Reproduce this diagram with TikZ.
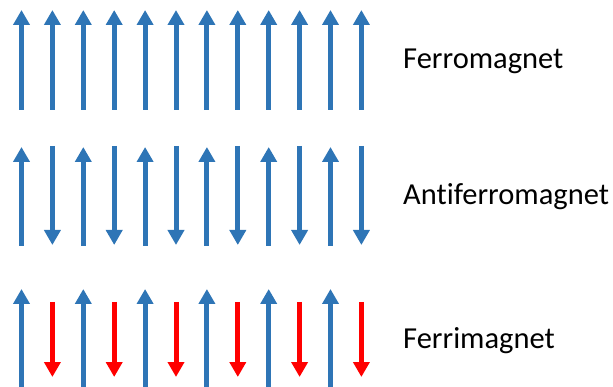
\documentclass[tikz,border=0pt]{standalone}
\usepackage{fontspec}
\setmainfont{Carlito}[Ligatures={NoCommon}]
\usetikzlibrary{arrows.meta}
\definecolor{spinblue}{HTML}{2E75B6}
\definecolor{spinred}{HTML}{FF0000}
\tikzset{
  spin/.style={line width=5pt, -{Triangle[length=15pt,width=16pt]}},
  bluespin/.style={spin, draw=spinblue, color=spinblue},
  redspin/.style={spin, draw=spinred, color=spinred},
  lbl/.style={anchor=base west, inner sep=0pt, font=\fontsize{30.5}{34}\selectfont, text=black}
}
\begin{document}
\begin{tikzpicture}[x=1pt,y=-1pt]
\useasboundingbox (0,0) rectangle (613,387);
% Ferromagnet row
\foreach \i in {0,...,11}{
  \draw[bluespin] ({21.5+30.9*\i},110) -- ({21.5+30.9*\i},10);
}
% Antiferromagnet row
\foreach \i in {0,2,...,10}{
  \draw[bluespin] ({21.5+30.9*\i},246) -- ({21.5+30.9*\i},147);
}
\foreach \i in {1,3,...,11}{
  \draw[bluespin] ({21.5+30.9*\i},146) -- ({21.5+30.9*\i},245);
}
% Ferrimagnet row
\foreach \i in {0,2,...,10}{
  \draw[bluespin] ({21.5+30.9*\i},387) -- ({21.5+30.9*\i},289);
}
\foreach \i in {1,3,...,11}{
  \draw[redspin] ({21.5+30.9*\i},302) -- ({21.5+30.9*\i},377);
}
\node[lbl] (ferro) at (403,69) {Ferromagnet};
\node[lbl] (anti) at (403,205) {Antiferromagnet};
\node[lbl] (ferri) at (403,348) {Ferrimagnet};
\end{tikzpicture}
\end{document}
